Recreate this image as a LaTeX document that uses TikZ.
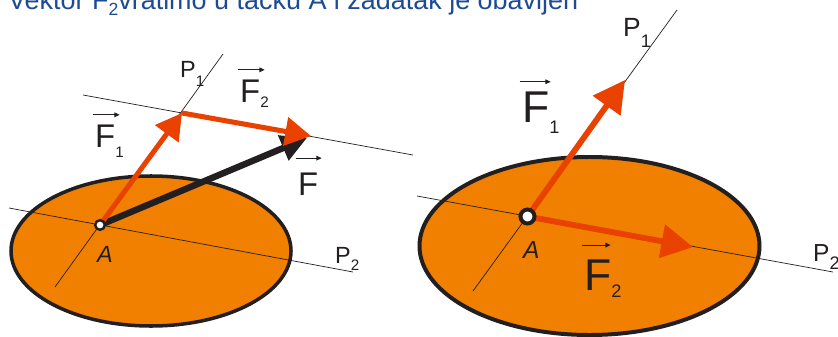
\documentclass[tikz,border=0pt]{standalone}
\usepackage{fontspec}
\setmainfont{Liberation Sans}
\usetikzlibrary{arrows.meta}
\definecolor{bodyfill}{HTML}{F28000}
\definecolor{forcered}{HTML}{E84100}
\definecolor{ink}{HTML}{231F20}
\definecolor{titleblue}{HTML}{1C4B92}
\newcommand{\sublbl}[4]{#1\raisebox{-#3pt}{\fontsize{#4}{#4}\selectfont #2}}
% point of application: coordinate, radius, rim
\newcommand{\hinge}[3]{%
  \filldraw[fill=white,draw=ink,line width=#3] (#1) circle (#2);
}
% arrow above a vector label: node, gap, length
\newcommand{\vecover}[3]{%
  \draw[overarrow] ([xshift=-2,yshift=#2]#1.north west) -- ++(#3,0);
}

\begin{document}
\begin{tikzpicture}[x=0.03cm,y=-0.03cm,
  every node/.style={inner sep=0pt,anchor=base west,text=ink},
  axis/.style={draw=ink,line width=0.6pt},
  plate/.style={fill=bodyfill,draw=ink},
  overarrow/.style={draw=ink,line width=0.8pt,-{Triangle[length=4.5pt,width=4pt]}},
  force/.style={draw=forcered,line width=4.3pt,-{Triangle[length=22pt,width=24pt]}},
  bigforce/.style={draw=forcered,line width=5pt,-{Triangle[length=27pt,width=28pt]}},
  result/.style={draw=ink,line width=5.5pt,-{Triangle[length=22pt,width=22pt]}}]
  \useasboundingbox (0,0) rectangle (838,337);
  \node[text=titleblue,font=\fontsize{23}{23}\selectfont] (title) at (8,9.5)
    {Vektor F\raisebox{-5pt}{\fontsize{15}{15}\selectfont 2}vratimo u tačku A i zadatak je obavljen};

  % left body
  \draw[plate,line width=3pt] (151,251) ellipse (140 and 75);
  \coordinate (A1) at (100,225);
  \coordinate (K1) at (182,113);
  \coordinate (T1) at (311,136);
  \coordinate (S1) at (307,138);
  \foreach \a/\b in {{(55,287)}/{(223,54)},{(9,208)}/{(353,272)},{(83,95)}/{(413,155)}}
    \draw[axis] \a -- \b;
  \draw[result] (A1) -- (S1);
  \draw[force] (A1) -- (K1);
  \draw[force] (K1) -- (T1);
  \hinge{A1}{4.8}{2.1pt}
  \node[font=\fontsize{28}{28}\selectfont] (f1l) at (95,147) {\sublbl{F}{1}{9}{13}};
  \node[font=\fontsize{28}{28}\selectfont] (f2l) at (240,102) {\sublbl{F}{2}{4.3}{13}};
  \node[font=\fontsize{28}{28}\selectfont] (fl) at (298,195) {F};
  \vecover{f1l}{8}{27}
  \vecover{f2l}{8}{27}
  \vecover{fl}{12}{26}
  \node[font=\fontsize{20}{20}\selectfont] (p1l) at (180,77) {\sublbl{P}{1}{7.7}{13}};
  \node[font=\fontsize{20}{20}\selectfont] (p2l) at (335,263) {\sublbl{P}{2}{6}{13}};
  \node[font=\fontsize{20}{20}\selectfont\itshape] (al) at (97,262) {A};

  % right body
  \draw[plate,line width=3.4pt] (589.5,246) ellipse (170 and 89);
  \coordinate (A2) at (527.5,216.5);
  \coordinate (E1) at (625,80);
  \coordinate (E2) at (693,247);
  \foreach \a/\b in {{(473,291)}/{(677,10)},{(417,196)}/{(833,272)}}
    \draw[axis] \a -- \b;
  \draw[bigforce] (A2) -- (E1);
  \draw[bigforce] (A2) -- (E2);
  \hinge{A2}{7}{3.4pt}
  \node[font=\fontsize{38}{38}\selectfont] (f1r) at (522,122) {\sublbl{F}{1}{9.4}{15.5}};
  \node[font=\fontsize{38}{38}\selectfont] (f2r) at (584,290) {\sublbl{F}{2}{6.8}{15.5}};
  \vecover{f1r}{8}{31}
  \vecover{f2r}{12}{29}
  \node[font=\fontsize{22.5}{22.5}\selectfont] (p1r) at (623,36) {\sublbl{P}{1}{10}{15.5}};
  \node[font=\fontsize{21}{21}\selectfont] (p2r) at (813,261) {\sublbl{P}{2}{7.5}{15.5}};
  \node[font=\fontsize{21}{21}\selectfont\itshape] (ar) at (523,258) {A};
\end{tikzpicture}
\end{document}
